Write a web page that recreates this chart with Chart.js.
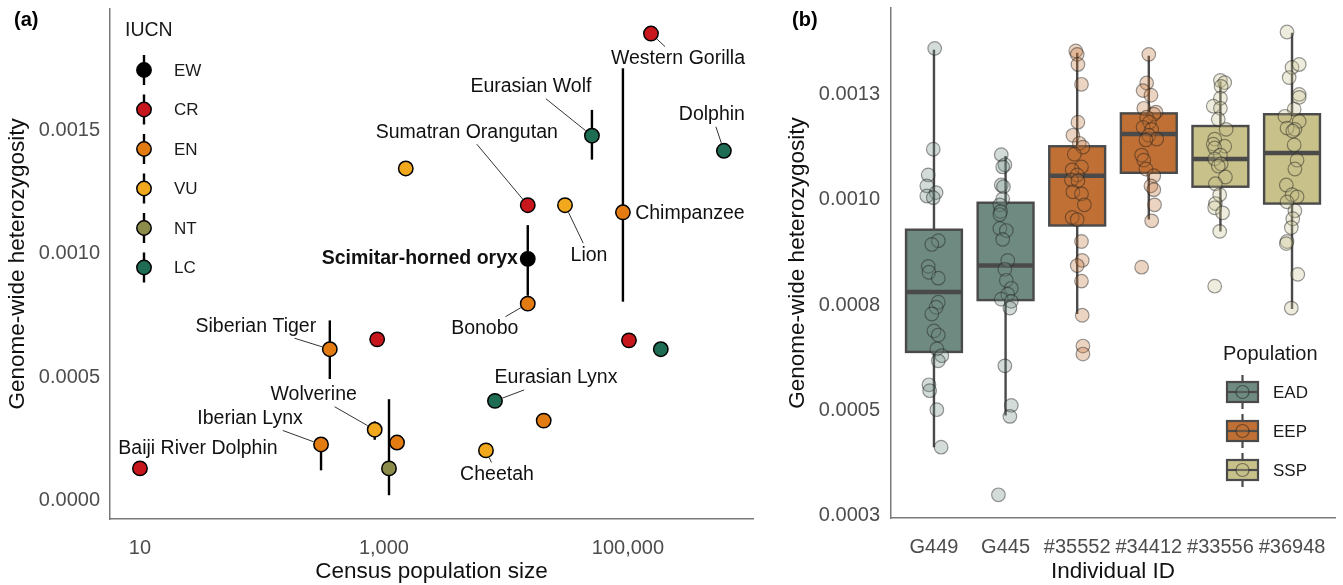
<!DOCTYPE html>
<html><head><meta charset="utf-8">
<script src="https://cdn.jsdelivr.net/npm/chart.js@4.4.1/dist/chart.umd.min.js"></script>
<style>
html,body{margin:0;padding:0;background:#fff;}
#wrap{position:relative;width:1343px;height:585px;overflow:hidden;background:#fff;}
canvas{position:absolute;top:0;}
#ca{left:0;} #cb{left:770px;}
</style></head><body>
<div id="wrap"><canvas id="ca" width="770" height="585"></canvas><canvas id="cb" width="573" height="585"></canvas></div>
<script>
// ================= Panel (a) data =================
const species = ['Baiji River Dolphin','Iberian Lynx','Siberian Tiger','','Wolverine','','','','Sumatran Orangutan','Lion','Scimitar-horned oryx','Bonobo','Eurasian Wolf','Chimpanzee','Western Gorilla','Dolphin','','','Eurasian Lynx','','Cheetah'];
const censusSize = [10,305,360,880,840,1280,1100,1510,15100,30500,15100,15100,50700,91000,154500,612000,102000,186000,8130,20400,6860];
const heterozygosity = [0.000129,0.000226,0.000613,0.000653,0.000286,0.000234,0.000129,0.001347,0.001198,0.001198,0.000980,0.000798,0.001480,0.001169,0.001895,0.001419,0.000649,0.000613,0.000403,0.000323,0.000202];
const iucnStatus = ['CR','EN','EN','CR','VU','EN','NT','VU','CR','VU','EW','EN','LC','EN','CR','LC','CR','LC','LC','EN','VU'];
const errLow  = [null,0.000121,0.000492,null,0.000245,null,0.000020,null,null,null,0.000830,null,0.001383,0.000806,null,null,null,null,null,null,null];
const errHigh = [null,0.000245,0.000730,null,0.000320,null,0.000410,null,null,null,0.001117,null,0.001585,0.001754,null,null,null,null,null,null,null];
const xTickValues = [10,1000,100000];
const xTickLabels = ['10','1,000','100,000'];
const yTickValuesA = [0,0.0005,0.001,0.0015];
const yTickLabelsA = ['0.0000','0.0005','0.0010','0.0015'];
const iucnCategories = ['EW','CR','EN','VU','NT','LC'];
const iucnColors = {EW:'#000000',CR:'#c8161d',EN:'#e27b12',VU:'#f2a81d',NT:'#8c8c4a',LC:'#1e6c53'};
// label layout (pixel offset of text centre from its point) and leader flag
const labelOffsets = [[58,-20],[-71,-26],[-74,-23],null,[-61,-35],null,null,null,[-61,-73],[24,50],[-108,0],[-43,25],[-61,-49],[67,1],[27,25],[-12,-36],null,null,[61,-23],null,[11,24]];
const labelLeader  = [false,true,true,false,true,false,false,false,true,true,false,true,true,false,true,true,false,false,true,false,true];

// ================= Panel (b) data =================
const individualIds = ['G449','G445','#35552','#34412','#33556','#36948'];
const individualPop = ['EAD','EAD','EEP','EEP','SSP','SSP'];
const popNames = ['EAD','EEP','SSP'];
const popColors = {EAD:[111,138,128],EEP:[192,112,52],SSP:[200,193,138]};
const whiskerLow  = [0.000413,0.000488,0.000729,0.000953,0.000925,0.000741];
const quart1      = [0.000639,0.000762,0.000939,0.001064,0.001031,0.000991];
const medianVal   = [0.000781,0.000844,0.001057,0.001156,0.001097,0.001111];
const quart3      = [0.000929,0.000993,0.001127,0.001205,0.001175,0.001203];
const whiskerHigh = [0.001356,0.001104,0.001349,0.001342,0.001281,0.001396];
const yTickValuesB = [0.00025,0.0005,0.00075,0.001,0.00125];
const yTickLabelsB = ['0.0003','0.0005','0.0008','0.0010','0.0013'];

const het_G449 = [0.001359,0.001120,0.001059,0.001033,0.001017,0.001009,0.001005,0.000903,0.000894,0.000842,0.000828,0.000814,0.000757,0.000745,0.000729,0.000689,0.000679,0.000646,0.000630,0.000618,0.000561,0.000547,0.000502,0.000413];
const jit_G449 = [0.01,-0.01,-0.08,-0.10,0.03,-0.10,-0.01,0.06,-0.03,-0.08,-0.07,0.06,0.06,0.03,-0.03,0.00,0.06,0.04,0.11,0.06,-0.07,-0.06,0.04,0.10];
const het_G445 = [0.001107,0.001083,0.001078,0.001035,0.001031,0.001002,0.000988,0.000972,0.000965,0.000932,0.000927,0.000906,0.000856,0.000835,0.000809,0.000790,0.000776,0.000764,0.000759,0.000743,0.000606,0.000512,0.000486,0.000300];
const jit_G445 = [-0.06,-0.01,-0.04,-0.06,-0.03,-0.04,-0.08,-0.07,-0.08,-0.08,0.01,-0.04,0.03,-0.01,0.01,0.08,0.03,-0.06,0.08,0.06,-0.01,0.08,0.06,-0.10];
const het_35552 = [0.001353,0.001345,0.001321,0.001274,0.001184,0.001153,0.001134,0.001125,0.001108,0.001078,0.001071,0.001059,0.001047,0.001045,0.001019,0.001014,0.000988,0.000958,0.000953,0.000901,0.000856,0.000844,0.000807,0.000726,0.000653,0.000634];
const jit_35552 = [-0.02,0.00,0.01,0.06,0.01,-0.06,0.03,0.08,-0.04,0.06,-0.07,0.00,-0.08,0.01,-0.06,0.06,0.10,-0.07,0.00,0.06,0.07,0.00,0.06,0.07,0.08,0.08];
const het_34412 = [0.001345,0.001277,0.001259,0.001248,0.001217,0.001208,0.001203,0.001196,0.001184,0.001172,0.001167,0.001153,0.001144,0.001142,0.001106,0.001094,0.001073,0.001057,0.001033,0.001024,0.000988,0.000950,0.000840];
const jit_34412 = [0.00,-0.03,-0.08,0.03,-0.07,0.10,0.07,-0.03,0.01,-0.08,0.04,0.00,0.11,-0.04,-0.10,-0.07,-0.04,0.07,0.03,0.07,0.08,0.04,-0.10];
const het_33556 = [0.001283,0.001278,0.001269,0.001241,0.001222,0.001217,0.001191,0.001167,0.001144,0.001132,0.001127,0.001123,0.001106,0.001097,0.001085,0.001080,0.001054,0.001038,0.001012,0.000991,0.000981,0.000969,0.000925,0.000795];
const jit_33556 = [0.00,0.06,0.01,0.00,-0.10,0.00,-0.03,0.08,-0.08,-0.10,0.06,-0.08,0.00,-0.08,0.01,-0.03,0.07,-0.07,-0.01,-0.07,-0.08,0.03,-0.01,-0.08];
const het_36948 = [0.001398,0.001314,0.001321,0.001290,0.001250,0.001243,0.001215,0.001198,0.001186,0.001170,0.001167,0.001163,0.001130,0.001094,0.001073,0.001035,0.001012,0.001007,0.000995,0.000974,0.000955,0.000934,0.000901,0.000896,0.000823,0.000743];
const jit_36948 = [-0.07,0.00,0.10,-0.04,0.10,0.10,0.03,-0.10,0.10,-0.07,0.04,0.01,0.03,0.07,0.04,-0.08,0.00,0.07,-0.07,0.04,0.01,-0.01,-0.07,-0.08,0.08,-0.01];
const hetByInd = [het_G449,het_G445,het_35552,het_34412,het_33556,het_36948];
const jitByInd = [jit_G449,jit_G445,jit_35552,jit_34412,jit_33556,jit_36948];

// ================= common =================
const FONT = "'Liberation Sans', Arial, Helvetica, sans-serif";
const TICK_COL = '#4d4d4d';
const AXIS_COL = '#7a7a7a';
function rgba(c,a){return 'rgba('+c[0]+','+c[1]+','+c[2]+','+a+')';}
function rgb(c){return 'rgb('+c[0]+','+c[1]+','+c[2]+')';}
function noPad(s){s.paddingTop=0;s.paddingBottom=0;s.paddingLeft=0;s.paddingRight=0;}

// ================= Panel (a) =================
const panelAPlugin = {
  id:'panelA',
  beforeDatasetsDraw(chart){
    const ctx=chart.ctx, xs=chart.scales.x, ys=chart.scales.y;
    ctx.save();
    ctx.strokeStyle='#000'; ctx.lineWidth=2.4;
    for(let i=0;i<censusSize.length;i++){
      if(errLow[i]==null) continue;
      const x=xs.getPixelForValue(censusSize[i]);
      ctx.beginPath();
      ctx.moveTo(x,ys.getPixelForValue(errLow[i]));
      ctx.lineTo(x,ys.getPixelForValue(errHigh[i]));
      ctx.stroke();
    }
    ctx.restore();
  },
  afterDatasetsDraw(chart){
    const ctx=chart.ctx, xs=chart.scales.x, ys=chart.scales.y;
    ctx.save();
    ctx.textBaseline='middle'; ctx.textAlign='center';
    for(let i=0;i<species.length;i++){
      if(!species[i]||!labelOffsets[i]) continue;
      const bold = species[i]==='Scimitar-horned oryx';
      ctx.font=(bold?'bold ':'')+'19.5px '+FONT;
      const px=xs.getPixelForValue(censusSize[i]), py=ys.getPixelForValue(heterozygosity[i]);
      const cx=px+labelOffsets[i][0], cy=py+labelOffsets[i][1];
      const w=ctx.measureText(species[i]).width;
      if(labelLeader[i]){
        const dx=px-cx, dy=py-cy;
        const hw=w/2+3, hh=12;
        const t=Math.min(Math.abs(dx)>0?hw/Math.abs(dx):1e9, Math.abs(dy)>0?hh/Math.abs(dy):1e9);
        const ex=cx+dx*t, ey=cy+dy*t;
        const L=Math.hypot(px-ex,py-ey);
        if(L>11){
          const ux=(ex-px)/L, uy=(ey-py)/L;
          ctx.strokeStyle='#333'; ctx.lineWidth=1;
          ctx.beginPath(); ctx.moveTo(px+ux*8,py+uy*8); ctx.lineTo(ex,ey); ctx.stroke();
        }
      }
      ctx.fillStyle='#111';
      ctx.fillText(species[i],cx,cy);
    }
    // panel tag
    ctx.textAlign='left'; ctx.fillStyle='#000';
    ctx.font='bold 20px '+FONT; ctx.fillText('(a)',14,20);
    // IUCN legend
    ctx.font='19.5px '+FONT; ctx.fillStyle='#1a1a1a';
    ctx.fillText('IUCN',125,31);
    iucnCategories.forEach((c,k)=>{
      const y=70+k*39.5, x=144;
      ctx.strokeStyle='#000'; ctx.lineWidth=2.4;
      ctx.beginPath(); ctx.moveTo(x,y-15); ctx.lineTo(x,y+15); ctx.stroke();
      ctx.beginPath(); ctx.arc(x,y,7.2,0,Math.PI*2);
      ctx.fillStyle=iucnColors[c]; ctx.fill();
      ctx.lineWidth=1.5; ctx.stroke();
      ctx.fillStyle='#1a1a1a'; ctx.font='17px '+FONT;
      ctx.fillText(c,174,y+1);
    });
    ctx.restore();
  }
};

new Chart(document.getElementById('ca'),{
  type:'scatter',
  data:{datasets:[{
    data:censusSize.map((v,i)=>({x:v,y:heterozygosity[i]})),
    pointRadius:7.2, pointHoverRadius:7.2,
    pointBackgroundColor:iucnStatus.map(s=>iucnColors[s]),
    pointBorderColor:'#000', pointBorderWidth:1.5
  }]},
  options:{
    responsive:false, animation:false, events:[],
    layout:{padding:{top:5,right:17,left:0,bottom:0}},
    plugins:{legend:{display:false},tooltip:{enabled:false}},
    scales:{
      x:{type:'logarithmic', min:5.68, max:1.06e6,
        grid:{display:false,drawTicks:false},
        border:{display:true,color:AXIS_COL,width:1.5},
        afterBuildTicks:s=>{s.ticks=xTickValues.map(v=>({value:v}));},
        afterFit:s=>{s.height=66;noPad(s);},
        ticks:{autoSkip:false,maxRotation:0,padding:17,color:TICK_COL,font:{family:FONT,size:20},
          callback:(v,i)=>xTickLabels[i]},
        title:{display:true,text:'Census population size',color:'#111',font:{family:FONT,size:22.5},padding:{top:0,bottom:0}}
      },
      y:{type:'linear', min:-0.0000766, max:0.001996,
        grid:{display:false,drawTicks:false},
        border:{display:true,color:AXIS_COL,width:1.5},
        afterBuildTicks:s=>{s.ticks=yTickValuesA.map(v=>({value:v}));},
        afterFit:s=>{s.width=110;noPad(s);},
        ticks:{autoSkip:false,padding:10,color:TICK_COL,font:{family:FONT,size:20},
          callback:(v,i)=>yTickLabelsA[i]},
        title:{display:true,text:'Genome-wide heterozygosity',color:'#111',font:{family:FONT,size:22.5},padding:{top:4,bottom:0}}
      }
    }
  },
  plugins:[panelAPlugin]
});

// ================= Panel (b) =================
const BOX_HALF=0.39;
const panelBPlugin = {
  id:'panelB',
  beforeDatasetsDraw(chart){
    const ctx=chart.ctx, xs=chart.scales.x, ys=chart.scales.y;
    ctx.save();
    for(let i=0;i<individualIds.length;i++){
      const c=popColors[individualPop[i]];
      const xc=xs.getPixelForValue(i+1), x0=xs.getPixelForValue(i+1-BOX_HALF), x1=xs.getPixelForValue(i+1+BOX_HALF);
      const yq1=ys.getPixelForValue(quart1[i]), yq3=ys.getPixelForValue(quart3[i]);
      const ym=ys.getPixelForValue(medianVal[i]);
      ctx.strokeStyle='#4a4a4a'; ctx.lineWidth=2.4;
      ctx.beginPath();
      ctx.moveTo(xc,yq3); ctx.lineTo(xc,ys.getPixelForValue(whiskerHigh[i]));
      ctx.moveTo(xc,yq1); ctx.lineTo(xc,ys.getPixelForValue(whiskerLow[i]));
      ctx.stroke();
      ctx.fillStyle=rgb(c);
      ctx.fillRect(x0,yq3,x1-x0,yq1-yq3);
      ctx.strokeRect(x0,yq3,x1-x0,yq1-yq3);
      ctx.lineWidth=4.5;
      ctx.beginPath(); ctx.moveTo(x0,ym); ctx.lineTo(x1,ym); ctx.stroke();
    }
    ctx.restore();
  },
  afterDatasetsDraw(chart){
    const ctx=chart.ctx;
    ctx.save();
    ctx.textBaseline='middle'; ctx.textAlign='left';
    ctx.fillStyle='#000'; ctx.font='bold 20px '+FONT;
    ctx.fillText('(b)',22,20);
    ctx.fillStyle='#1a1a1a'; ctx.font='20px '+FONT;
    ctx.fillText('Population',453,354);
    popNames.forEach((p,k)=>{
      const cy=392+k*39, x0=457, x1=488, xc=(x0+x1)/2, c=popColors[p];
      ctx.strokeStyle='#4a4a4a'; ctx.lineWidth=2.2;
      ctx.beginPath(); ctx.moveTo(xc,cy-17); ctx.lineTo(xc,cy+17); ctx.stroke();
      ctx.fillStyle=rgb(c); ctx.fillRect(x0,cy-10,x1-x0,20); ctx.strokeRect(x0,cy-10,x1-x0,20);
      ctx.lineWidth=2.2; ctx.beginPath(); ctx.moveTo(x0,cy); ctx.lineTo(x1,cy); ctx.stroke();
      ctx.beginPath(); ctx.arc(xc,cy,6.5,0,Math.PI*2);
      ctx.fillStyle=rgba(c,0.3); ctx.fill();
      ctx.strokeStyle='rgba(30,30,30,0.5)'; ctx.lineWidth=1.2; ctx.stroke();
      ctx.fillStyle='#1a1a1a'; ctx.font='17px '+FONT;
      ctx.fillText(p,503,cy+1);
    });
    ctx.restore();
  }
};

new Chart(document.getElementById('cb'),{
  type:'scatter',
  data:{datasets:individualIds.map((id,i)=>{
    const c=popColors[individualPop[i]];
    return {
      label:id,
      data:hetByInd[i].map((v,j)=>({x:i+1+jitByInd[i][j],y:v})),
      pointRadius:6.8, pointHoverRadius:6.8,
      pointBackgroundColor:rgba(c,0.3),
      pointBorderColor:'rgba(30,30,30,0.45)', pointBorderWidth:1.2
    };
  })},
  options:{
    responsive:false, animation:false, events:[],
    layout:{padding:{top:5,right:5,left:0,bottom:0}},
    plugins:{legend:{display:false},tooltip:{enabled:false}},
    scales:{
      x:{type:'linear', min:0.4, max:6.6,
        grid:{display:false,drawTicks:false},
        border:{display:true,color:AXIS_COL,width:1.5},
        afterBuildTicks:s=>{s.ticks=individualIds.map((id,i)=>({value:i+1}));},
        afterFit:s=>{s.height=67;noPad(s);},
        ticks:{autoSkip:false,maxRotation:0,padding:17,color:TICK_COL,font:{family:FONT,size:20},
          callback:(v,i)=>individualIds[i]},
        title:{display:true,text:'Individual ID',color:'#111',font:{family:FONT,size:22.5},padding:{top:0,bottom:0}}
      },
      y:{type:'linear', min:0.000245, max:0.001455,
        grid:{display:false,drawTicks:false},
        border:{display:true,color:AXIS_COL,width:1.5},
        afterBuildTicks:s=>{s.ticks=yTickValuesB.map(v=>({value:v}));},
        afterFit:s=>{s.width=121;noPad(s);},
        ticks:{autoSkip:false,padding:11,color:TICK_COL,font:{family:FONT,size:20},
          callback:(v,i)=>yTickLabelsB[i]},
        title:{display:true,text:'Genome-wide heterozygosity',color:'#111',font:{family:FONT,size:22.5},padding:{top:14,bottom:0}}
      }
    }
  },
  plugins:[panelBPlugin]
});
</script>
</body></html>
